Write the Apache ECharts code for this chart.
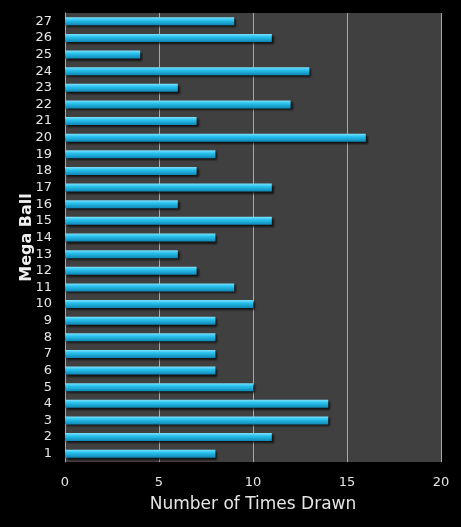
<!DOCTYPE html>
<html>
<head>
<meta charset="utf-8">
<style>
  html, body { margin: 0; padding: 0; background: #000; }
  #chart { width: 461px; height: 527px; }
</style>
<script src="https://cdn.jsdelivr.net/npm/echarts@6/dist/echarts.min.js"></script>
</head>
<body>
<div id="chart"></div>
<script>
// mega ball numbers, bottom to top
const balls = ['1', '2', '3', '4', '5', '6', '7', '8', '9', '10', '11', '12', '13', '14',
  '15', '16', '17', '18', '19', '20', '21', '22', '23', '24', '25', '26', '27'];
const timesDrawn = [8, 11, 14, 14, 10, 8, 8, 8, 8, 10, 9, 7, 6, 8,
  11, 6, 11, 7, 8, 16, 7, 12, 6, 13, 4, 11, 9];
const xTicks = [0, 5, 10, 15, 20];

const chart = echarts.init(document.getElementById('chart'));

const font = 'Verdana, "DejaVu Sans", sans-serif';

chart.setOption({
  backgroundColor: '#000',
  animation: false,
  grid: {
    left: 65,
    right: 20,
    top: 13,
    bottom: 65,
    show: true,
    backgroundColor: '#404040',
    borderWidth: 0
  },
  xAxis: {
    type: 'value',
    min: xTicks[0],
    max: xTicks[xTicks.length - 1],
    interval: 5,
    name: 'Number of Times Drawn',
    nameLocation: 'middle',
    nameGap: 34,
    nameMoveOverlap: false,
    nameTextStyle: { color: '#e6e6e6', fontSize: 17, fontFamily: font },
    axisLine: { show: false },
    axisTick: { show: false },
    axisLabel: { color: '#e6e6e6', fontSize: 13, fontFamily: font, margin: 14 },
    splitLine: { show: true, lineStyle: { color: '#a8a8a8', width: 1 } }
  },
  yAxis: {
    type: 'category',
    data: balls,
    name: 'Mega Ball',
    nameLocation: 'middle',
    nameGap: 30,
    nameMoveOverlap: false,
    nameRotate: 90,
    nameTextStyle: { color: '#f0f0f0', fontSize: 16, fontWeight: 'bold', fontFamily: font },
    axisLine: { show: true, lineStyle: { color: '#a8a8a8', width: 1 } },
    axisTick: { show: false },
    axisLabel: { color: '#e6e6e6', fontSize: 13, fontFamily: font, margin: 13, interval: 0 },
    splitLine: { show: false }
  },
  series: [{
    type: 'bar',
    data: timesDrawn,
    barWidth: 8,
    itemStyle: {
      color: new echarts.graphic.LinearGradient(0, 0, 0, 1, [
        { offset: 0, color: '#7fe0fa' },
        { offset: 0.35, color: '#2ac4f0' },
        { offset: 1, color: '#0f86b4' }
      ]),
      shadowColor: 'rgba(0,0,0,0.7)',
      shadowOffsetX: 2,
      shadowOffsetY: 2,
      shadowBlur: 2
    }
  }]
});
</script>
</body>
</html>
